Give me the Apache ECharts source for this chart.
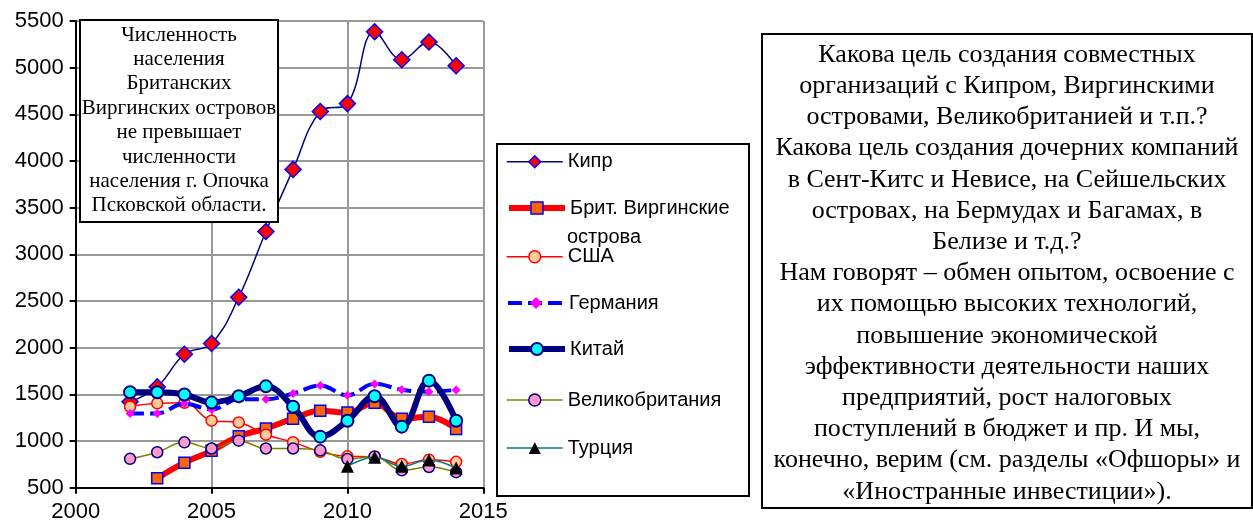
<!DOCTYPE html>
<html>
<head>
<meta charset="utf-8">
<script src="https://cdn.jsdelivr.net/npm/echarts@6/dist/echarts.min.js"></script>
<style>
html,body{margin:0;padding:0;background:#fff;}
#chart{width:1253px;height:523px;}
</style>
</head>
<body>
<div id="chart"></div>
<script>
const years = [2002, 2003, 2004, 2005, 2006, 2007, 2008, 2009, 2010, 2011, 2012, 2013, 2014];
const seriesNames = ['Кипр', 'Брит. Виргинские острова', 'США', 'Германия', 'Китай', 'Великобритания', 'Турция'];
const cyprus  = [1420, 1580, 1930, 2045, 2540, 3245, 3910, 4530, 4615, 5385, 5085, 5275, 5020];
const bvi     = [null, 600, 768, 895, 1052, 1133, 1240, 1324, 1305, 1411, 1240, 1261, 1130];
const usa     = [1368, 1404, 1410, 1218, 1199, 1068, 988, 884, 836, 830, 754, 800, 777];
const germany = [1295, 1295, 1402, 1338, 1447, 1447, 1509, 1595, 1490, 1612, 1550, 1529, 1548];
const china   = [1522, 1522, 1499, 1413, 1480, 1586, 1368, 1047, 1218, 1479, 1154, 1647, 1217];
const uk      = [809, 880, 986, 920, 1004, 920, 920, 900, 807, 835, 686, 722, 666];
const turkey  = [null, null, null, null, null, null, null, null, 730, 825, 730, 797, 710];
const xTicks = [2000, 2005, 2010, 2015];
const yTicks = [500, 1000, 1500, 2000, 2500, 3000, 3500, 4000, 4500, 5000, 5500];

const noteLines = ['Численность', 'населения', 'Британских', 'Виргинских островов', 'не превышает', 'численности', 'населения г. Опочка', 'Псковской области.'];
const boxLines = [
  'Какова цель создания совместных',
  'организаций с Кипром, Виргинскими',
  'островами, Великобританией и т.п.?',
  'Какова цель создания дочерних компаний',
  'в Сент-Китс и Невисе, на Сейшельских',
  'островах, на Бермудах и Багамах, в',
  'Белизе и т.д.?',
  'Нам говорят – обмен опытом, освоение с',
  'их помощью высоких технологий,',
  'повышение экономической',
  'эффективности деятельности наших',
  'предприятий, рост налоговых',
  'поступлений в бюджет и пр. И мы,',
  'конечно, верим (см. разделы «Офшоры» и',
  '«Иностранные инвестиции»).'
];

function pairs(arr) {
  const out = [];
  arr.forEach((v, i) => { if (v !== null) out.push([years[i], v]); });
  return out;
}

const styles = [
  {line: {color: '#000080', width: 1.5, type: 'solid'}, symbol: 'diamond', size: 16, item: {color: '#FF0000', borderColor: '#0000FF', borderWidth: 1.5}},
  {line: {color: '#FF0000', width: 6, type: 'solid'}, symbol: 'rect', size: 11, item: {color: '#FF6600', borderColor: '#0000FF', borderWidth: 1.5}},
  {line: {color: '#FF0000', width: 1.5, type: 'solid'}, symbol: 'circle', size: 11, item: {color: '#FFCC99', borderColor: '#FF0000', borderWidth: 1.5}},
  {line: {color: '#0000FF', width: 4, type: [14, 6]}, symbol: 'diamond', size: 9, item: {color: '#FF00FF', borderColor: '#FF00FF', borderWidth: 0}},
  {line: {color: '#000080', width: 6, type: 'solid'}, symbol: 'circle', size: 12, item: {color: '#00FFFF', borderColor: '#000080', borderWidth: 2}},
  {line: {color: '#808000', width: 1.5, type: 'solid'}, symbol: 'circle', size: 11, item: {color: '#FF99CC', borderColor: '#000080', borderWidth: 1.5}},
  {line: {color: '#008080', width: 1.5, type: 'solid'}, symbol: 'triangle', size: 13, item: {color: '#000000', borderColor: '#000000', borderWidth: 0}}
];
const dataSets = [cyprus, bvi, usa, germany, china, uk, turkey];

const series = seriesNames.map((name, i) => ({
  name: name,
  type: 'line',
  data: pairs(dataSets[i]),
  smooth: 0.4,
  symbol: styles[i].symbol,
  symbolSize: styles[i].size,
  showAllSymbol: true,
  lineStyle: styles[i].line,
  itemStyle: styles[i].item,
  z: 2 + i,
  animation: false
}));

const legendCenters = [161.7, 208, 256.7, 303, 349, 400, 448];
const legends = seriesNames.map((name, i) => ({
  data: [name],
  orient: 'vertical',
  left: 506,
  top: legendCenters[i] - 12,
  padding: 0,
  itemWidth: 56,
  itemHeight: 15,
  itemGap: 0,
  selectedMode: false,
  lineStyle: Object.assign({}, styles[i].line),
  itemStyle: Object.assign({}, styles[i].item),
  formatter: (n) => n === 'Брит. Виргинские острова' ? 'Брит. Виргинские' : n,
  textStyle: {fontFamily: 'Liberation Sans', fontSize: 20, lineHeight: 24, color: '#000'}
}));

const chart = echarts.init(document.getElementById('chart'), null, {renderer: 'canvas'});
chart.setOption({
  animation: false,
  backgroundColor: '#fff',
  grid: {left: 75.7, right: 1253 - 483.3, top: 21, bottom: 523 - 487.7},
  xAxis: {
    type: 'value', min: xTicks[0], max: xTicks[xTicks.length - 1], interval: 5,
    axisLine: {show: true, onZero: false, lineStyle: {color: '#000', width: 2}},
    axisTick: {show: true, length: 6, lineStyle: {color: '#000', width: 2}},
    axisLabel: {fontFamily: 'Liberation Sans', fontSize: 22, color: '#000', margin: 13, formatter: (v) => String(v)},
    splitLine: {show: true, lineStyle: {color: '#999', width: 2}}
  },
  yAxis: {
    type: 'value', min: yTicks[0], max: yTicks[yTicks.length - 1], interval: 500,
    axisLine: {show: true, lineStyle: {color: '#000', width: 2}},
    axisTick: {show: true, length: 6, lineStyle: {color: '#000', width: 2}},
    axisLabel: {fontFamily: 'Liberation Sans', fontSize: 22, color: '#000', margin: 12, formatter: (v) => String(v)},
    splitLine: {show: true, lineStyle: {color: '#999', width: 2}}
  },
  legend: legends,
  series: series,
  graphic: [
    {type: 'rect', shape: {x: 497, y: 144, width: 252, height: 352}, style: {fill: 'none', stroke: '#000', lineWidth: 2}, z: 1, silent: true},
    {type: 'text', x: 567, y: 237, style: {text: 'острова', fontFamily: 'Liberation Sans', fontSize: 20, fill: '#000', align: 'left', verticalAlign: 'middle'}, z: 10, silent: true},
    {type: 'rect', shape: {x: 80, y: 20, width: 198, height: 202}, style: {fill: '#fff', stroke: '#000', lineWidth: 2}, z: 100, silent: true},
    {type: 'text', x: 179, y: 22.8, style: {text: noteLines.join('\n'), fontFamily: 'Liberation Serif', fontSize: 21, lineHeight: 24.4, fill: '#000', align: 'center', verticalAlign: 'top'}, z: 101, silent: true},
    {type: 'rect', shape: {x: 762, y: 34, width: 490, height: 474}, style: {fill: '#fff', stroke: '#000', lineWidth: 2}, z: 100, silent: true},
    {type: 'text', x: 1007, y: 39.4, style: {text: boxLines.join('\n'), fontFamily: 'Liberation Serif', fontSize: 26, lineHeight: 31.2, fill: '#000', align: 'center', verticalAlign: 'top'}, z: 101, silent: true}
  ]
});
</script>
</body>
</html>
